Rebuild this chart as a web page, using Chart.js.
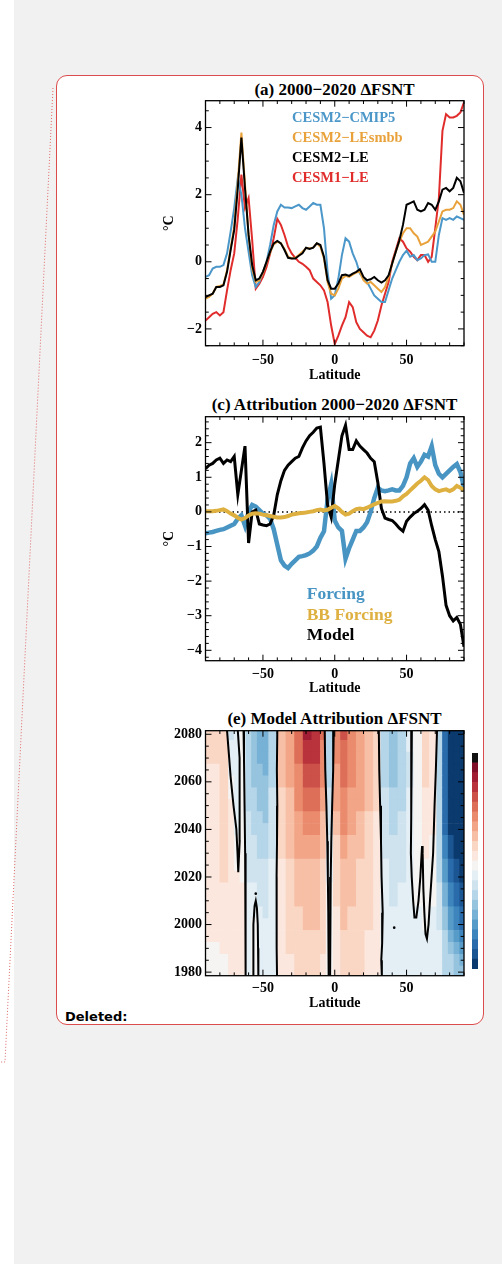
<!DOCTYPE html>
<html>
<head>
<meta charset="utf-8">
<title>ΔFSNT</title>
<script src="https://cdn.jsdelivr.net/npm/chart.js@4.4.1/dist/chart.umd.min.js"></script>
<style>
  html, body { margin: 0; padding: 0; }
  body { width: 502px; height: 1264px; background: #f1f1f1; position: relative; overflow: hidden; }
  .strip { position: absolute; left: 0; top: 0; width: 14px; height: 1264px; background: #fff; }
  .box { position: absolute; left: 56px; top: 75px; width: 426px; height: 948px; background: #fff;
         border: 1px solid #dc4c4c; border-radius: 11px; }
  canvas { position: absolute; }
  .ttl { position: absolute; left: 184px; width: 301px; text-align: center; white-space: nowrap;
         font: bold 17px/20px 'Liberation Serif', serif; color: #000; }
  .leg { position: absolute; white-space: nowrap; font-family: 'Liberation Serif', serif; font-weight: bold; line-height: 20px; }
  .legA { left: 292px; font-size: 14.5px; }
  .legC { left: 306.7px; font-size: 17.5px; }
  .note { position: absolute; left: 65px; top: 1009px; font: bold 13px/16px 'DejaVu Sans', sans-serif; color: #000; }
</style>
</head>
<body>
<div class="strip"></div>
<svg width="502" height="1264" style="position:absolute;left:0;top:0">
  <polyline points="53,88 5,1062 0,1062" fill="none" stroke="#e06a6a" stroke-width="1" stroke-dasharray="1 2"/>
</svg>
<div class="box"></div>

<div class="ttl" style="top:80px">(a) 2000−2020 ΔFSNT</div>
<canvas id="panelA" width="320" height="310" style="left:160px;top:78px"></canvas>
<div class="leg legA" style="top:106.7px;color:#4b97c9">CESM2−CMIP5</div>
<div class="leg legA" style="top:126.7px;color:#e9a23b">CESM2−LEsmbb</div>
<div class="leg legA" style="top:146.7px;color:#000">CESM2−LE</div>
<div class="leg legA" style="top:166.7px;color:#e12c2c">CESM1−LE</div>

<div class="ttl" style="top:395px">(c) Attribution 2000−2020 ΔFSNT</div>
<canvas id="panelC" width="320" height="309" style="left:160px;top:394px"></canvas>
<div class="leg legC" style="top:583.3px;color:#4895c4">Forcing</div>
<div class="leg legC" style="top:604px;color:#deb040">BB Forcing</div>
<div class="leg legC" style="top:624.3px;color:#000">Model</div>

<div class="ttl" style="top:709px">(e) Model Attribution ΔFSNT</div>
<canvas id="panelE" width="320" height="310" style="left:160px;top:708px"></canvas>
<canvas id="cbar" width="6" height="216" style="left:472px;top:753px"></canvas>

<div class="note">Deleted:</div>

<script>
// latitude grid of the zonal means (deg N)
const lats = [-90, -87.5, -85, -82.5, -80, -77.5, -75, -72.5, -70, -67.5,
  -65, -62.5, -60, -57.5, -55, -52.5, -50, -47.5, -45, -42.5,
  -40, -37.5, -35, -32.5, -30, -27.5, -25, -22.5, -20, -17.5,
  -15, -12.5, -10, -7.5, -5, -2.5, 0, 2.5, 5, 7.5,
  10, 12.5, 15, 17.5, 20, 22.5, 25, 27.5, 30, 32.5,
  35, 37.5, 40, 42.5, 45, 47.5, 50, 52.5, 55, 57.5,
  60, 62.5, 65, 67.5, 70, 72.5, 75, 77.5, 80, 82.5,
  85, 87.5, 90];

// (a) 2000-2020 FSNT change per ensemble
const cesm2Cmip5 = [-0.45, -0.4, -0.2, -0.15, -0.15, -0.1, 0.25, 0.9, 1.6, 2.5,
  2.0, 1.0, 0.3, -0.4, -0.75, -0.6, -0.3, 0.0, 0.5, 1.1,
  1.5, 1.7, 1.62, 1.62, 1.6, 1.65, 1.7, 1.6, 1.55, 1.65,
  1.75, 1.7, 1.7, 1.0, -0.3, -1.1, -1.0, -0.5, 0.2, 0.7,
  0.6, 0.25, 0.0, -0.35, -0.5, -0.6, -0.8, -1.0, -1.1, -1.2,
  -1.2, -0.85, -0.5, -0.25, 0.0, 0.2, 0.33, 0.15, 0.2, 0.05,
  0.1, 0.2, 0.22, 0.0, 0.0, 0.8, 1.3, 1.25, 1.3, 1.25,
  1.35, 1.3, 1.25];
const cesm2LeSmbb = [-1.1, -1.05, -0.95, -0.75, -0.72, -0.68, -0.25, 0.4, 1.05, 2.4,
  3.85, 2.3, 0.8, -0.2, -0.6, -0.55, -0.32, -0.02, 0.28, 0.52,
  0.6, 0.55, 0.38, 0.15, 0.1, 0.12, 0.2, 0.3, 0.4, 0.4,
  0.42, 0.55, 0.45, 0.1, -0.6, -0.95, -1.0, -0.8, -0.5, -0.42,
  -0.45, -0.38, -0.32, -0.3, -0.55, -0.65, -0.6, -0.7, -0.8, -0.9,
  -0.75, -0.45, -0.05, 0.3, 0.6, 0.85, 1.0, 1.0, 0.85, 0.75,
  0.5, 0.55, 0.6, 0.75, 0.9, 1.2, 1.5, 1.55, 1.55, 1.6,
  1.8, 1.7, 1.4];
const cesm2Le = [-1.05, -1.0, -0.95, -0.75, -0.75, -0.7, -0.3, 0.35, 0.95, 2.2,
  3.7, 2.2, 0.8, -0.1, -0.55, -0.5, -0.3, 0.0, 0.3, 0.55,
  0.62, 0.55, 0.35, 0.12, 0.1, 0.1, 0.18, 0.25, 0.42, 0.38,
  0.42, 0.55, 0.5, 0.15, -0.55, -0.8, -0.8, -0.65, -0.4, -0.38,
  -0.42, -0.35, -0.3, -0.22, -0.45, -0.55, -0.52, -0.45, -0.55, -0.62,
  -0.55, -0.4, -0.05, 0.3, 0.64, 1.1, 1.7, 1.75, 1.8, 1.55,
  1.5, 1.55, 1.75, 1.7, 1.55, 1.8, 2.15, 2.2, 2.1, 2.2,
  2.5, 2.4, 2.05];
const cesm1Le = [-1.75, -1.65, -1.55, -1.5, -1.6, -1.5, -0.85, -0.25, 0.25, 1.3,
  2.6, 1.6, 1.9, 0.65, -0.8, -0.65, -0.45, -0.15, 0.25, 0.7,
  1.28, 1.1, 0.8, 0.45, 0.25, 0.12, 0.0, -0.06, -0.15, -0.25,
  -0.5, -0.6, -0.7, -0.85, -1.2, -1.9, -2.45, -2.2, -1.9, -1.65,
  -1.2, -1.35, -1.8, -2.0, -2.1, -2.2, -2.25, -2.05, -1.75, -1.3,
  -0.95, -0.6, 0.0, 0.35, 0.7, 0.6, 0.4, 0.3, 0.15, 0.05,
  0.2, 0.2, 0.0, 0.15, 1.0, 1.9, 3.9, 4.4, 4.3, 4.3,
  4.35, 4.45, 4.75];

// (c) attribution of the same change
const forcing = [-0.62, -0.6, -0.58, -0.55, -0.52, -0.5, -0.45, -0.4, -0.35, -0.2,
  -0.1, -0.4, 0.0, 0.2, 0.15, 0.05, -0.05, -0.1, -0.2, -0.5,
  -0.95, -1.4, -1.55, -1.62, -1.5, -1.4, -1.3, -1.28, -1.25, -1.2,
  -1.12, -1.0, -0.75, -0.56, 0.35, 0.8, -0.25, -0.45, -0.55, -1.35,
  -1.05, -0.8, -0.55, -0.55, -0.45, -0.3, 0.0, 0.4, 0.7, 0.62,
  0.6, 0.62, 0.65, 0.62, 0.62, 0.75, 1.0, 1.4, 1.55, 1.3,
  1.45, 1.65, 1.6, 1.9, 1.35, 1.1, 1.0, 1.1, 1.2, 1.3,
  1.38, 1.15, 0.7];
const bbForcing = [0.02, 0.02, 0.02, 0.03, 0.05, 0.07, 0.02, -0.05, -0.1, -0.17,
  -0.22, -0.18, -0.1, -0.05, -0.04, -0.05, -0.08, -0.1, -0.12, -0.14,
  -0.16, -0.16, -0.15, -0.12, -0.08, -0.06, -0.04, -0.03, -0.02, 0.0,
  0.02, 0.05, 0.07, 0.04, 0.06, 0.12, 0.17, 0.1, 0.0, -0.08,
  -0.05, 0.02, 0.08, 0.1, 0.08, 0.12, 0.17, 0.22, 0.26, 0.3,
  0.31, 0.3, 0.3, 0.32, 0.35, 0.45, 0.52, 0.62, 0.72, 0.82,
  0.9, 1.0, 0.92, 0.75, 0.65, 0.6, 0.63, 0.65, 0.6, 0.65,
  0.75, 0.7, 0.62];
const modelResp = [1.25, 1.35, 1.4, 1.5, 1.55, 1.4, 1.5, 1.45, 1.6, 0.5,
  1.2, 1.9, -0.9, 0.0, 0.05, -0.35, -0.38, -0.4, -0.35, -0.1,
  0.5, 0.9, 1.2, 1.35, 1.45, 1.55, 1.6, 1.85, 2.05, 2.2,
  2.3, 2.42, 2.45, 1.4, 0.2, -0.15, 0.8, 1.5, 2.2, 2.5,
  1.8, 1.8, 2.05, 1.9, 1.8, 1.7, 1.55, 1.45, 0.85, 0.1,
  -0.18, -0.22, -0.25, -0.35, -0.47, -0.56, -0.27, -0.15, -0.05, 0.02,
  0.1, 0.21, 0.05, -0.4, -0.8, -1.15, -1.85, -2.7, -3.0, -3.15,
  -3.05, -3.25, -3.9];

// (e) latitude bin edges, row years and the contour level (-10..11) of each cell,
// stored one list per latitude bin, 1980 first
const binEdges = [-90, -80, -74, -70, -66, -62, -58, -54, -50, -46, -40,
  -34, -28, -22, -16, -10, -6, -1, 4, 9, 15, 21, 27, 32,
  38, 44, 50, 55, 61, 66, 71, 75, 79, 83, 87, 90];
const rowYears = [1980, 1985, 1990, 1995, 2000, 2005, 2010, 2015, 2020, 2025, 2030,
  2035, 2040, 2045, 2050, 2055, 2060, 2065, 2070, 2075, 2080];
const mapColumns = [
  [0, 0, 0, 1, 1, 1, 1, 1, 1, 1, 1, 1, 1, 1, 1, 1, 1, 1, 2, 2, 2],
  [0, 0, 1, 1, 1, 1, 1, 1, 2, 2, 2, 2, 2, 2, 2, 2, 2, 2, 2, 2, 2],
  [1, 1, 1, 1, 1, 1, 1, 1, 1, 1, 1, 1, 1, 1, 1, 0, 0, -1, -1, -1, -2],
  [1, 1, 1, 1, 1, 1, 1, 1, 1, 0, 0, 0, -1, -1, -1, -1, -1, -1, -1, -1, -1],
  [1, 1, 1, 1, 1, 1, 1, 1, 0, 0, 0, 0, 0, 0, 0, 0, 0, 0, 0, 0, 0],
  [-1, -1, -1, -1, -1, -1, -1, -1, -2, -2, -2, -2, -2, -2, -3, -3, -3, -3, -3, -3, -3],
  [0, 0, 0, 0, 0, -1, -1, -1, -2, -2, -2, -2, -3, -3, -3, -3, -4, -4, -4, -4, -4],
  [-1, -1, -1, -1, -1, -1, -2, -2, -2, -2, -3, -3, -3, -3, -4, -4, -4, -4, -5, -5, -5],
  [-1, -1, -1, -1, -1, -2, -2, -2, -2, -2, -3, -3, -3, -4, -4, -4, -4, -5, -5, -5, -5],
  [-1, -1, -1, -1, -1, -1, -1, -1, -1, -1, -2, -2, -2, -2, -2, -2, -3, -3, -3, -3, -3],
  [1, 1, 1, 1, 1, 1, 1, 1, 1, 1, 2, 2, 2, 2, 2, 2, 3, 3, 3, 3, 3],
  [1, 1, 2, 2, 2, 2, 2, 2, 2, 2, 3, 3, 3, 3, 3, 3, 4, 4, 4, 4, 4],
  [2, 2, 2, 2, 2, 2, 3, 3, 3, 3, 4, 4, 4, 4, 5, 5, 5, 5, 6, 6, 6],
  [2, 2, 2, 2, 3, 3, 3, 3, 3, 3, 4, 4, 5, 5, 6, 6, 7, 7, 8, 8, 9],
  [2, 2, 2, 2, 3, 3, 3, 3, 3, 3, 4, 4, 5, 5, 6, 6, 7, 7, 8, 8, 8],
  [1, 1, 2, 2, 2, 2, 2, 2, 2, 2, 3, 3, 3, 3, 4, 4, 5, 5, 5, 5, 6],
  [0, 0, 0, 0, 0, 0, 0, 0, -1, -1, -1, -1, -2, -2, -2, -2, -3, -3, -3, -3, -3],
  [1, 1, 1, 1, 1, 1, 2, 2, 2, 2, 2, 2, 3, 3, 4, 4, 4, 4, 5, 5, 5],
  [2, 2, 2, 2, 3, 3, 3, 3, 3, 3, 4, 4, 5, 5, 5, 5, 6, 6, 6, 6, 7],
  [2, 2, 2, 2, 2, 2, 3, 3, 3, 3, 3, 3, 4, 4, 4, 4, 5, 5, 5, 5, 5],
  [2, 2, 2, 2, 2, 2, 2, 2, 2, 2, 3, 3, 3, 3, 4, 4, 4, 4, 4, 4, 4],
  [1, 1, 1, 1, 2, 2, 2, 2, 2, 2, 2, 2, 2, 2, 3, 3, 3, 3, 3, 3, 3],
  [1, 1, 1, 1, 1, 1, 1, 1, 1, 1, 1, 1, 1, 1, 2, 2, 2, 2, 2, 2, 2],
  [-1, -1, -1, -1, -1, -1, -1, -1, -1, -1, -2, -2, -2, -2, -2, -2, -3, -3, -3, -3, -3],
  [-1, -1, -1, -1, -1, -1, -2, -2, -2, -2, -2, -2, -3, -3, -3, -3, -4, -4, -4, -4, -4],
  [-1, -1, -1, -1, -1, -1, -1, -1, -2, -2, -2, -2, -2, -2, -3, -3, -3, -3, -3, -3, -3],
  [-1, -1, -1, -1, -1, -1, -1, -1, -1, -1, -1, -1, -1, -1, -1, -1, -2, -2, -2, -1, -1],
  [-1, -1, -1, -1, -1, -1, 0, 0, 0, 0, 0, 0, 0, 0, 0, 0, 0, 0, 0, 0, 0],
  [-1, -1, -1, -1, 0, 0, 0, 0, 0, 0, 1, 1, 1, 1, 1, 1, 2, 2, 2, 2, 2],
  [-1, -1, -1, -1, -1, -1, 0, 0, 0, 0, 0, 0, 1, 1, 1, 1, 1, 1, 1, 1, 1],
  [-1, -1, -1, -1, -2, -2, -2, -2, -3, -3, -3, -3, -3, -3, -3, -3, -3, -3, -3, -3, -3],
  [-3, -3, -3, -3, -4, -4, -5, -5, -6, -6, -7, -7, -8, -8, -8, -8, -8, -8, -8, -8, -8],
  [-3, -3, -4, -5, -6, -6, -7, -7, -8, -8, -9, -9, -10, -10, -10, -10, -10, -10, -10, -10, -10],
  [-4, -4, -5, -6, -7, -7, -8, -8, -9, -9, -10, -10, -10, -10, -10, -10, -10, -10, -10, -10, -10],
  [-4, -5, -6, -7, -8, -8, -9, -9, -10, -10, -10, -10, -10, -10, -10, -10, -10, -10, -10, -10, -10]
];
// zero contours as [lat, year] traces
const zeroContours = [
  [[-75, 2081.5], [-73.5, 2070], [-72.5, 2062], [-70.5, 2050], [-68.5, 2040], [-67.7, 2030], [-67.2, 2022],
   [-66.2, 2035], [-66, 2050], [-66.5, 2070], [-67.5, 2081.5]],
  [[-63.5, 2081.5], [-63.2, 2070], [-62.8, 2050], [-62.4, 2030], [-62.2, 2010], [-62, 1990], [-62, 1978.5]],
  [[-56.5, 1978.5], [-56.8, 1990], [-56.5, 2000], [-55.8, 2008], [-55, 2010], [-54.2, 2007], [-53.6, 2000], [-53.4, 1990], [-53.2, 1978.5]],
  [[-40, 2081.5], [-40.3, 2065], [-40, 2050], [-40.2, 2035], [-40.5, 2020], [-40.3, 2005], [-40.6, 1990], [-40.2, 1978.5]],
  [[-7, 2081.5], [-6.6, 2065], [-5.8, 2050], [-5.2, 2035], [-4.8, 2020], [-4.5, 2005], [-4.3, 1990], [-4.2, 1978.5]],
  [[-0.7, 2081.5], [-1.1, 2065], [-1.8, 2050], [-2.4, 2035], [-2.8, 2020], [-3.1, 2005], [-3.3, 1990], [-3.3, 1978.5]],
  [[30.7, 2081.5], [31, 2065], [31.6, 2050], [32.2, 2035], [32.6, 2020], [33.4, 2005], [33, 1992], [32.4, 1985], [32.8, 1978.5]],
  [[53.7, 2081.5], [53.3, 2060], [53.2, 2045], [53, 2030], [53.6, 2020], [54.6, 2010], [55.5, 2003], [56.8, 2003],
   [58.3, 2010], [59.6, 2020], [60.5, 2030], [60.8, 2033], [61.2, 2030], [61.7, 2015], [62.4, 2005], [63.2, 1996],
   [64.2, 1994], [65.3, 2000], [66.3, 2010], [67.2, 2018], [68.5, 2030], [69.5, 2050], [70.4, 2065], [71.2, 2081.5]]
];
const strayPoints = [[41.4, 1998.7], [-55, 2013]];

// colour of each level, bottom of the colour bar to top
const levelColours = ['#0b3a6e', '#1b5592', '#2a6cab', '#3d85bc', '#579bc8', '#77b1d5', '#96c4df', '#b5d5e8',
  '#cfe3ef', '#e3eef5', '#f5f4f3', '#fbe7dd', '#fad7c5', '#f7c0a6', '#f2a587', '#ea8b6e', '#dd6f58',
  '#cc5148', '#b8333c', '#a01d33', '#80102a', '#111111'];
const levelColour = lv => levelColours[lv + 10];

const serif = "'Liberation Serif', 'Times New Roman', serif";
Chart.defaults.font.family = serif;
Chart.defaults.font.weight = 'bold';
Chart.defaults.font.size = 14;
Chart.defaults.color = '#000';
Chart.defaults.animation = false;

const minus = v => String(v).replace('-', '\u2212');

// IDL style frame: box round the plot plus inward ticks on all four sides
const frameTicks = {
  id: 'frameTicks',
  afterDatasetsDraw(chart, args, opt) {
    const { ctx, chartArea: a } = chart;
    const sx = chart.scales.x, sy = chart.scales.y;
    const isMajor = (v, step) => Math.abs(v / step - Math.round(v / step)) < 1e-6;
    ctx.save();
    ctx.strokeStyle = '#000';
    ctx.lineWidth = 1;
    ctx.beginPath();
    for (let k = Math.ceil(sx.min / opt.xMinor - 1e-9); k * opt.xMinor <= sx.max + 1e-9; k++) {
      const v = k * opt.xMinor;
      const p = sx.getPixelForValue(v);
      const len = isMajor(v, opt.xMajor) ? 6 : 3.3;
      ctx.moveTo(p, a.bottom); ctx.lineTo(p, a.bottom - len);
      ctx.moveTo(p, a.top); ctx.lineTo(p, a.top + len);
    }
    for (let k = Math.ceil(sy.min / opt.yMinor - 1e-9); k * opt.yMinor <= sy.max + 1e-9; k++) {
      const v = k * opt.yMinor;
      const p = sy.getPixelForValue(v);
      const len = isMajor(v, opt.yMajor) ? 6 : 3.3;
      ctx.moveTo(a.left, p); ctx.lineTo(a.left + len, p);
      ctx.moveTo(a.right, p); ctx.lineTo(a.right - len, p);
    }
    ctx.stroke();
    ctx.lineWidth = 1.3;
    ctx.strokeRect(a.left, a.top, a.right - a.left, a.bottom - a.top);
    ctx.restore();
  }
};

function axis(min, max, step, o) {
  return {
    type: 'linear', min, max, offset: false,
    grid: { display: false, drawTicks: false },
    border: { display: false },
    ticks: { stepSize: step, includeBounds: false, autoSkip: false, maxRotation: 0,
             padding: o.pad, callback: o.fmt || minus },
    title: o.title ? { display: true, text: o.title, font: { size: 14, weight: 'bold' }, padding: o.titlePad }
                   : { display: false },
    afterFit(s) { if (o.w) s.width = o.w; if (o.h) s.height = o.h; }
  };
}

function curve(values, colour, width, order) {
  return { data: values.map((v, i) => ({ x: lats[i], y: v })), borderColor: colour,
           borderWidth: width, pointRadius: 0, tension: 0, order };
}

const baseOpts = (ticks) => ({
  responsive: false,
  layout: { padding: { top: 22.7, right: 16, left: 0, bottom: 0 } },
  plugins: { legend: { display: false }, tooltip: { enabled: false }, frameTicks: ticks }
});

// (a)
new Chart(document.getElementById('panelA'), {
  type: 'line',
  data: { datasets: [
    curve(cesm2Le, '#000000', 2, 0),
    curve(cesm2LeSmbb, '#e9a23b', 2, 1),
    curve(cesm2Cmip5, '#4b97c9', 2, 2),
    curve(cesm1Le, '#e12c2c', 2, 3)
  ] },
  options: Object.assign(baseOpts({ xMajor: 50, xMinor: 10, yMajor: 2, yMinor: 0.5 }), {
    scales: {
      x: axis(-90, 90, 50, { pad: 6, title: 'Latitude', titlePad: { top: 0, bottom: 4.6 }, h: 42.3 }),
      y: axis(-2.5, 4.8, 2, { pad: 3.5, title: '°C', titlePad: { top: 0.6, bottom: 0 }, w: 45.5 })
    }
  }),
  plugins: [frameTicks]
});

// (c)
const zeroLine = { data: [{ x: -90, y: 0 }, { x: 90, y: 0 }], borderColor: '#000', borderWidth: 1.5,
                   borderDash: [1.5, 3], pointRadius: 0, order: 3 };
new Chart(document.getElementById('panelC'), {
  type: 'line',
  data: { datasets: [
    curve(bbForcing, '#deb040', 4, 0),
    curve(modelResp, '#000000', 3, 1),
    curve(forcing, '#4895c4', 4.5, 2),
    zeroLine
  ] },
  options: Object.assign(baseOpts({ xMajor: 50, xMinor: 10, yMajor: 1, yMinor: 0.2 }), {
    scales: {
      x: axis(-90, 90, 50, { pad: 5, title: 'Latitude', titlePad: { top: 0, bottom: 6.1 }, h: 42.3 }),
      y: axis(-4.3, 2.75, 1, { pad: 3.5, title: '°C', titlePad: { top: 0.6, bottom: 0 }, w: 45.5 })
    }
  }),
  plugins: [frameTicks]
});

// (e) latitude-time map: one floating horizontal bar per cell, one dataset per row of years
const rowSets = rowYears.map((yr, r) => ({
  type: 'bar', indexAxis: 'y', grouped: false, categoryPercentage: 1, barPercentage: 1,
  borderWidth: 0, clip: 0, order: 10,
  data: mapColumns.map((col, i) => ({ x: [binEdges[i], binEdges[i + 1]], y: yr })),
  backgroundColor: mapColumns.map(col => levelColour(col[r]))
}));
const contourSets = zeroContours.map(c => ({
  type: 'line', data: c.map(p => ({ x: p[0], y: p[1] })), borderColor: '#000', borderWidth: 2,
  pointRadius: 0, tension: 0, clip: 0, order: 0
}));
const dotSet = {
  type: 'scatter', data: strayPoints.map(p => ({ x: p[0], y: p[1] })), pointRadius: 1.3,
  pointBackgroundColor: '#000', pointBorderWidth: 0, showLine: false, clip: 0, order: 0
};
new Chart(document.getElementById('panelE'), {
  type: 'bar',
  data: { datasets: rowSets.concat(contourSets, [dotSet]) },
  options: Object.assign(baseOpts({ xMajor: 50, xMinor: 10, yMajor: 20, yMinor: 5 }), {
    scales: {
      x: axis(-90, 90, 50, { pad: 4, title: 'Latitude', titlePad: { top: 0, bottom: 6.1 }, h: 42.3 }),
      y: axis(1978.5, 2081.5, 20, { pad: 3.5, w: 45.5, fmt: v => String(v) })
    }
  }),
  plugins: [frameTicks]
});

// colour bar: one unit block per level, stacked
new Chart(document.getElementById('cbar'), {
  type: 'bar',
  data: { labels: [''], datasets: levelColours.map(c => ({ data: [1], backgroundColor: c, borderWidth: 0 })) },
  options: {
    responsive: false,
    layout: { padding: 0 },
    datasets: { bar: { categoryPercentage: 1, barPercentage: 1 } },
    plugins: { legend: { display: false }, tooltip: { enabled: false } },
    scales: {
      x: { stacked: true, display: false },
      y: { stacked: true, display: false, min: 0, max: levelColours.length }
    }
  }
});
</script>
</body>
</html>
